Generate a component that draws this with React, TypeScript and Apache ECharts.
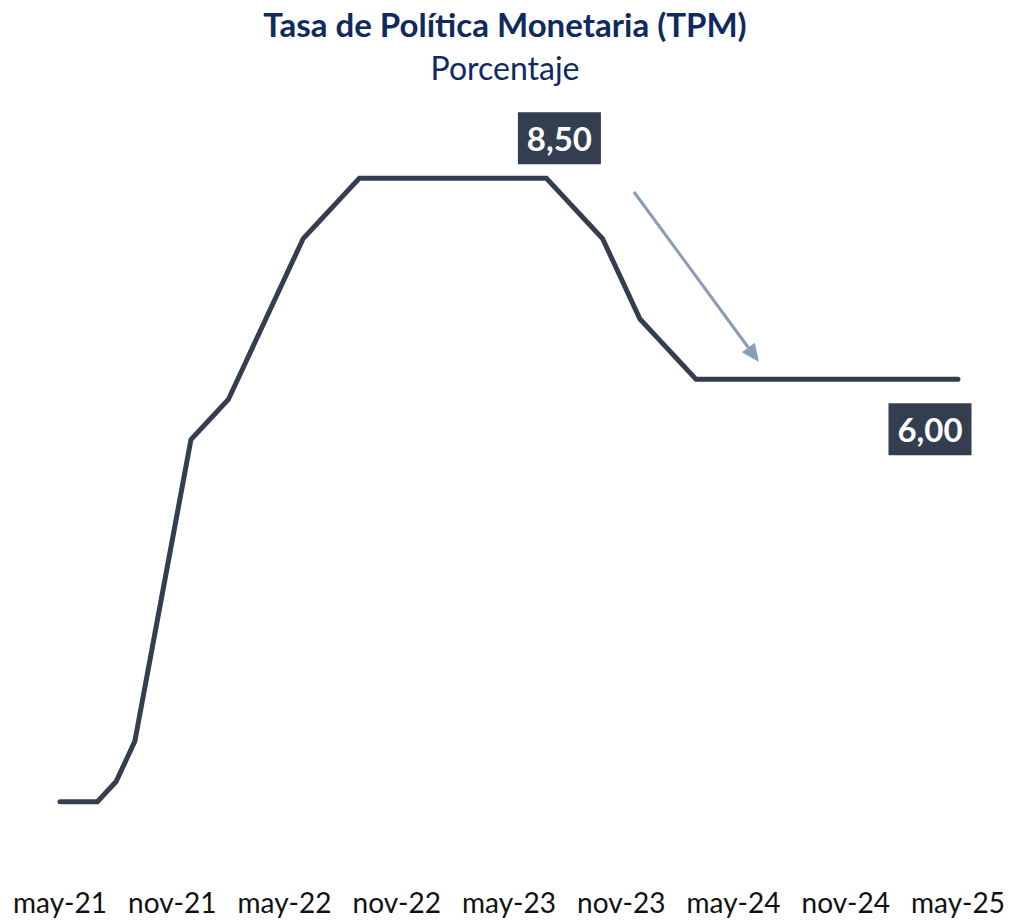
import React, { useEffect, useRef } from "react";
import * as echarts from "echarts";

const months: string[] = [
  "may-21", "jun-21", "jul-21", "ago-21", "sep-21", "oct-21", "nov-21", "dic-21",
  "ene-22", "feb-22", "mar-22", "abr-22", "may-22", "jun-22", "jul-22", "ago-22", "sep-22", "oct-22", "nov-22", "dic-22",
  "ene-23", "feb-23", "mar-23", "abr-23", "may-23", "jun-23", "jul-23", "ago-23", "sep-23", "oct-23", "nov-23", "dic-23",
  "ene-24", "feb-24", "mar-24", "abr-24", "may-24", "jun-24", "jul-24", "ago-24", "sep-24", "oct-24", "nov-24", "dic-24",
  "ene-25", "feb-25", "mar-25", "abr-25", "may-25",
];

const tpm: number[] = [
  0.75, 0.75, 0.75, 1.0, 1.5, 2.75, 4.0, 5.25,
  5.5, 5.75, 6.25, 6.75, 7.25, 7.75, 8.0, 8.25, 8.5, 8.5, 8.5, 8.5,
  8.5, 8.5, 8.5, 8.5, 8.5, 8.5, 8.5, 8.25, 8.0, 7.75, 7.25, 6.75,
  6.5, 6.25, 6.0, 6.0, 6.0, 6.0, 6.0, 6.0, 6.0, 6.0, 6.0, 6.0,
  6.0, 6.0, 6.0, 6.0, 6.0,
];

const peakLabelIndex = 26;
const lastLabelIndex = 48;

const LINE = "#333e51";
const NAVY = "#0f2a5e";
const FONT = "Lato, 'Open Sans', sans-serif";

export default function App() {
  const ref = useRef<HTMLDivElement>(null);

  useEffect(() => {
    if (!ref.current) return;
    const chart = echarts.init(ref.current, undefined, { renderer: "svg" });

    const fmt = (v: number) => v.toFixed(2).replace(".", ",");

    const boxPoint = (idx: number, offset: number[]) => ({
      coord: [months[idx], tpm[idx]],
      value: fmt(tpm[idx]),
      symbol: "rect",
      symbolSize: [83, 52],
      symbolOffset: offset,
      itemStyle: { color: LINE },
      label: {
        show: true,
        position: "inside",
        formatter: fmt(tpm[idx]),
        color: "#ffffff",
        fontFamily: FONT,
        fontSize: 33,
        fontWeight: "bold",
      },
    });

    // arrow annotation
    const tip = [759, 362];
    const start = [634, 192];
    const dx = tip[0] - start[0];
    const dy = tip[1] - start[1];
    const len = Math.sqrt(dx * dx + dy * dy);
    const ux = dx / len, uy = dy / len;
    const headL = 18, headW = 8;
    const bx = tip[0] - ux * headL, by = tip[1] - uy * headL;

    chart.setOption({
      animation: false,
      backgroundColor: "#ffffff",
      title: [
        {
          text: "Tasa de Política Monetaria (TPM)",
          left: "center",
          top: 2,
          textStyle: { fontFamily: FONT, fontSize: 33, fontWeight: "bold", color: NAVY },
        },
        {
          text: "Porcentaje",
          left: "center",
          top: 46,
          textStyle: { fontFamily: FONT, fontSize: 32, fontWeight: "normal", color: NAVY },
        },
      ],
      grid: { left: 60, right: 52, top: 138, bottom: 61, containLabel: false },
      xAxis: {
        type: "category",
        data: months,
        boundaryGap: false,
        axisLine: { show: false },
        axisTick: { show: false },
        splitLine: { show: false },
        axisLabel: {
          interval: 5,
          margin: 26,
          fontFamily: FONT,
          fontSize: 28,
          color: "#111111",
        },
      },
      yAxis: {
        type: "value",
        min: 0,
        max: 9,
        show: false,
        splitLine: { show: false },
      },
      series: [
        {
          type: "line",
          data: tpm,
          symbol: "none",
          lineStyle: { color: LINE, width: 5, cap: "round", join: "miter" },
          markPoint: {
            silent: true,
            data: [
              boxPoint(peakLabelIndex, [13, -40]),
              boxPoint(lastLabelIndex, [-28, 50]),
            ],
          },
        },
      ],
      graphic: [
        {
          type: "line",
          shape: { x1: start[0], y1: start[1], x2: bx, y2: by },
          style: { stroke: "#8a9cb6", lineWidth: 3 },
        },
        {
          type: "polygon",
          shape: {
            points: [
              [tip[0], tip[1]],
              [bx - uy * headW, by + ux * headW],
              [bx + uy * headW, by - ux * headW],
            ],
          },
          style: { fill: "#8a9cb6" },
        },
      ],
    });

    return () => chart.dispose();
  }, []);

  return (
    <div
      ref={ref}
      style={{ position: "fixed", left: 0, top: 0, width: 1010, height: 923 }}
    />
  );
}
